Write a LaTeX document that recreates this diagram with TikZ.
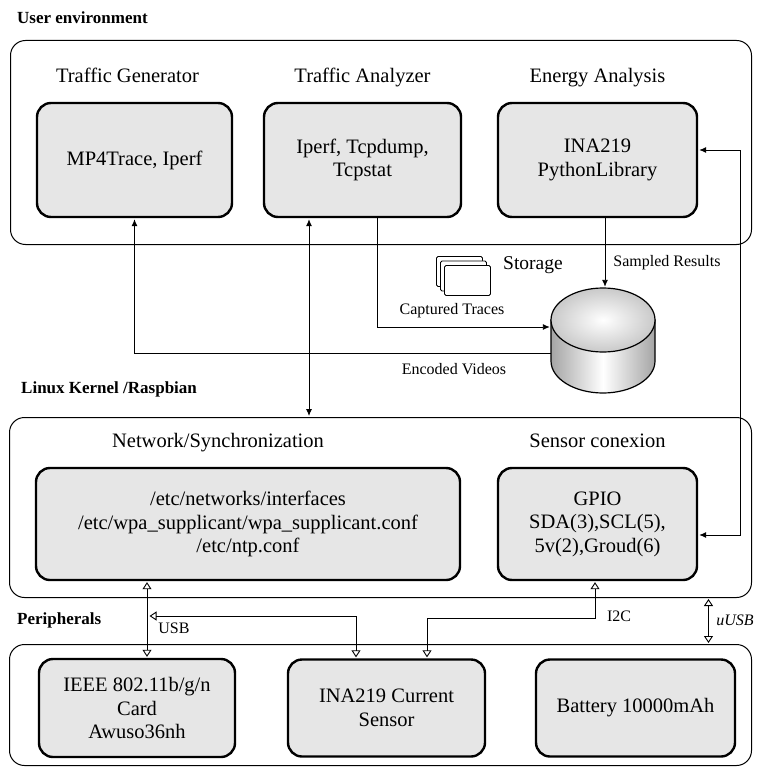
\documentclass[tikz,border=0pt]{standalone}
\usepackage{fontspec}
\setmainfont{Liberation Serif}
\usetikzlibrary{positioning,arrows.meta}

\definecolor{boxgray}{RGB}{230,230,230}
\definecolor{dbgray}{RGB}{165,165,165}

\tikzset{
	archpicture/.style = {
		x = 1pt,
		y = -1pt,
		node distance = 12pt,
		arrow/.style = {
			draw,
			line width = 0.9pt,
			>={Latex[length=7pt, width=6pt]},
			->,
			shorten >=1pt,
		},
		open arrow/.style = {
			draw,
			line width = 0.9pt,
			>={Triangle[open, length=7pt, width=9pt]},
			<->,
			shorten >=1pt,
			shorten <=1pt,
		}
	},
	layer/.style = {
		draw,
		line width = 1pt,
		rounded corners = 15pt,
		anchor = north west,
		inner sep = 0pt
	},
	layername/.style = {
		font = \fontsize{17}{20}\selectfont\bfseries,
		anchor = west,
		inner sep = 0pt
	},
	block/.style = {
		draw,
		fill = boxgray,
		line width = 2.4pt,
		rounded corners = 14pt,
		align = center,
		minimum width = 195pt,
		minimum height = 114pt,
		font = \fontsize{20.5}{23.5}\selectfont
	},
	blocktitle/.style = {
		font = \fontsize{20.5}{23.5}\selectfont,
		text height = 14pt,
		text depth = 4pt
	},
	tag/.style = {
		font = \fontsize{16}{18}\selectfont
	},
	page/.style = {
		draw,
		fill = white,
		line width = 0.9pt,
		rounded corners = 1.5pt,
		minimum width = 46pt,
		minimum height = 30pt,
		anchor = north west
	}
}

\begin{document}
\begin{tikzpicture}[archpicture]
	\useasboundingbox (0,0) rectangle (756,767);

	% layers
	\node[layer, minimum width = 741pt, minimum height = 204pt] (user) at (10,40) {};
	\node[layer, minimum width = 742pt, minimum height = 180pt] (kernel) at (9,417) {};
	\node[layer, minimum width = 742pt, minimum height = 121pt] (periph) at (9,644) {};

	\node[layername] (usertxt) at (17,18) {User environment};
	\node[layername] (kerneltxt) at (21,389) {Linux Kernel /Raspbian};
	\node[layername] (periphtxt) at (17,620) {Peripherals};

	% user environment
	\node[block] (gen) at (134.5,160) {MP4Trace, Iperf};
	\node[block, minimum width = 197pt] (ana) at (362.5,160) {Iperf, Tcpdump,\\Tcpstat};
	\node[block, minimum width = 199pt] (energy) at (597.5,160) {INA219\\PythonLibrary};

	\node[blocktitle, above = 12pt of gen, xshift = -7pt] (gentxt) {Traffic Generator};
	\node[blocktitle, above = 12pt of ana] (anatxt) {Traffic Analyzer};
	\node[blocktitle, above = 12pt of energy] (energytxt) {Energy Analysis};

	% kernel
	\node[block, minimum width = 424pt, minimum height = 112pt] (net) at (248,524)
		{/etc/networks/interfaces\\/etc/wpa\_supplicant/wpa\_supplicant.conf\\/etc/ntp.conf};
	\node[block, minimum width = 199pt, minimum height = 112pt] (gpio) at (597.5,524)
		{GPIO\\SDA(3),SCL(5),\\5v(2),Groud(6)};

	\node[blocktitle, above = 12pt of net, xshift = -30pt] (nettxt) {Network/Synchronization};
	\node[blocktitle, above = 12pt of gpio] (gpiotxt) {Sensor conexion};

	% peripherals
	\node[block, minimum width = 196pt, minimum height = 98pt] (wifi) at (137,708) {IEEE 802.11b/g/n\\Card\\Awuso36nh};
	\node[block, minimum width = 197pt, minimum height = 97pt] (sensor) at (386.5,708) {INA219 Current\\Sensor};
	\node[block, minimum width = 199pt, minimum height = 97pt] (battery) at (635.5,708) {Battery 10000mAh};

	% storage
	\foreach \i in {0,1,2}
		\node[page] (page\i) at (436+4*\i, 256+4.5*\i) {};
	\node[minimum width = 104pt, minimum height = 105pt, inner sep = 0pt] (db) at (603,340.5) {};
	\shade[left color = dbgray, right color = dbgray, middle color = white, draw, line width = 1.2pt]
		(551,320) -- (551,361) arc[start angle = 180, end angle = 0, x radius = 52, y radius = 32] -- (655,320) -- cycle;
	\shade[inner color = white, outer color = dbgray!60, draw, line width = 1.2pt]
		(603,320) ellipse [x radius = 52, y radius = 32];

	\node[font = \fontsize{19.5}{22}\selectfont] (storage) at (533,265) {Storage};
	\node[tag] (captured) at (452,311) {Captured Traces};
	\node[tag] (encoded) at (454,369) {Encoded Videos};
	\node[tag] (sampled) at (667,263) {Sampled Results};
	\node[tag] (usb) at (174,628) {USB};
	\node[tag] (i2c) at (619,616) {I2C};
	\node[tag, font = \fontsize{16}{18}\selectfont\itshape] (uusb) at (735,620) {uUSB};

	\coordinate (usbjoin) at (148.5,616);

	\begin{scope}[every path/.style = arrow]
		\path ([yshift=-12.5pt]db.west) -| (gen.south);
		\path ([xshift=14.5pt]ana.south) |- ([yshift=13.5pt]db.west);
		\path ([xshift=7.5pt]energy.south) -- ([xshift=7.5pt]energy.south |- db.north);
		\path[<->, shorten <=1pt] ([xshift=-53.5pt]ana.south) -- ([xshift=-53.5pt]ana.south |- kernel.north);
		\path[<->, shorten <=1pt] ([yshift=10pt]energy.east) -- ++(42,0) |- ([yshift=-11pt]gpio.east);
	\end{scope}

	\begin{scope}[every path/.style = open arrow]
		\path ([xshift=-101pt]net.south) -- ([xshift=-101pt]net.south |- wifi.north);
		\path (usbjoin) -| ([xshift=-30.5pt]sensor.north);
		\path ([xshift=-2.5pt]gpio.south) -- ++(0,37) -| ([xshift=40.5pt]sensor.north);
		\path ([xshift=328pt]kernel.south) -- ([xshift=328pt]kernel.south |- periph.north);
	\end{scope}
\end{tikzpicture}
\end{document}
